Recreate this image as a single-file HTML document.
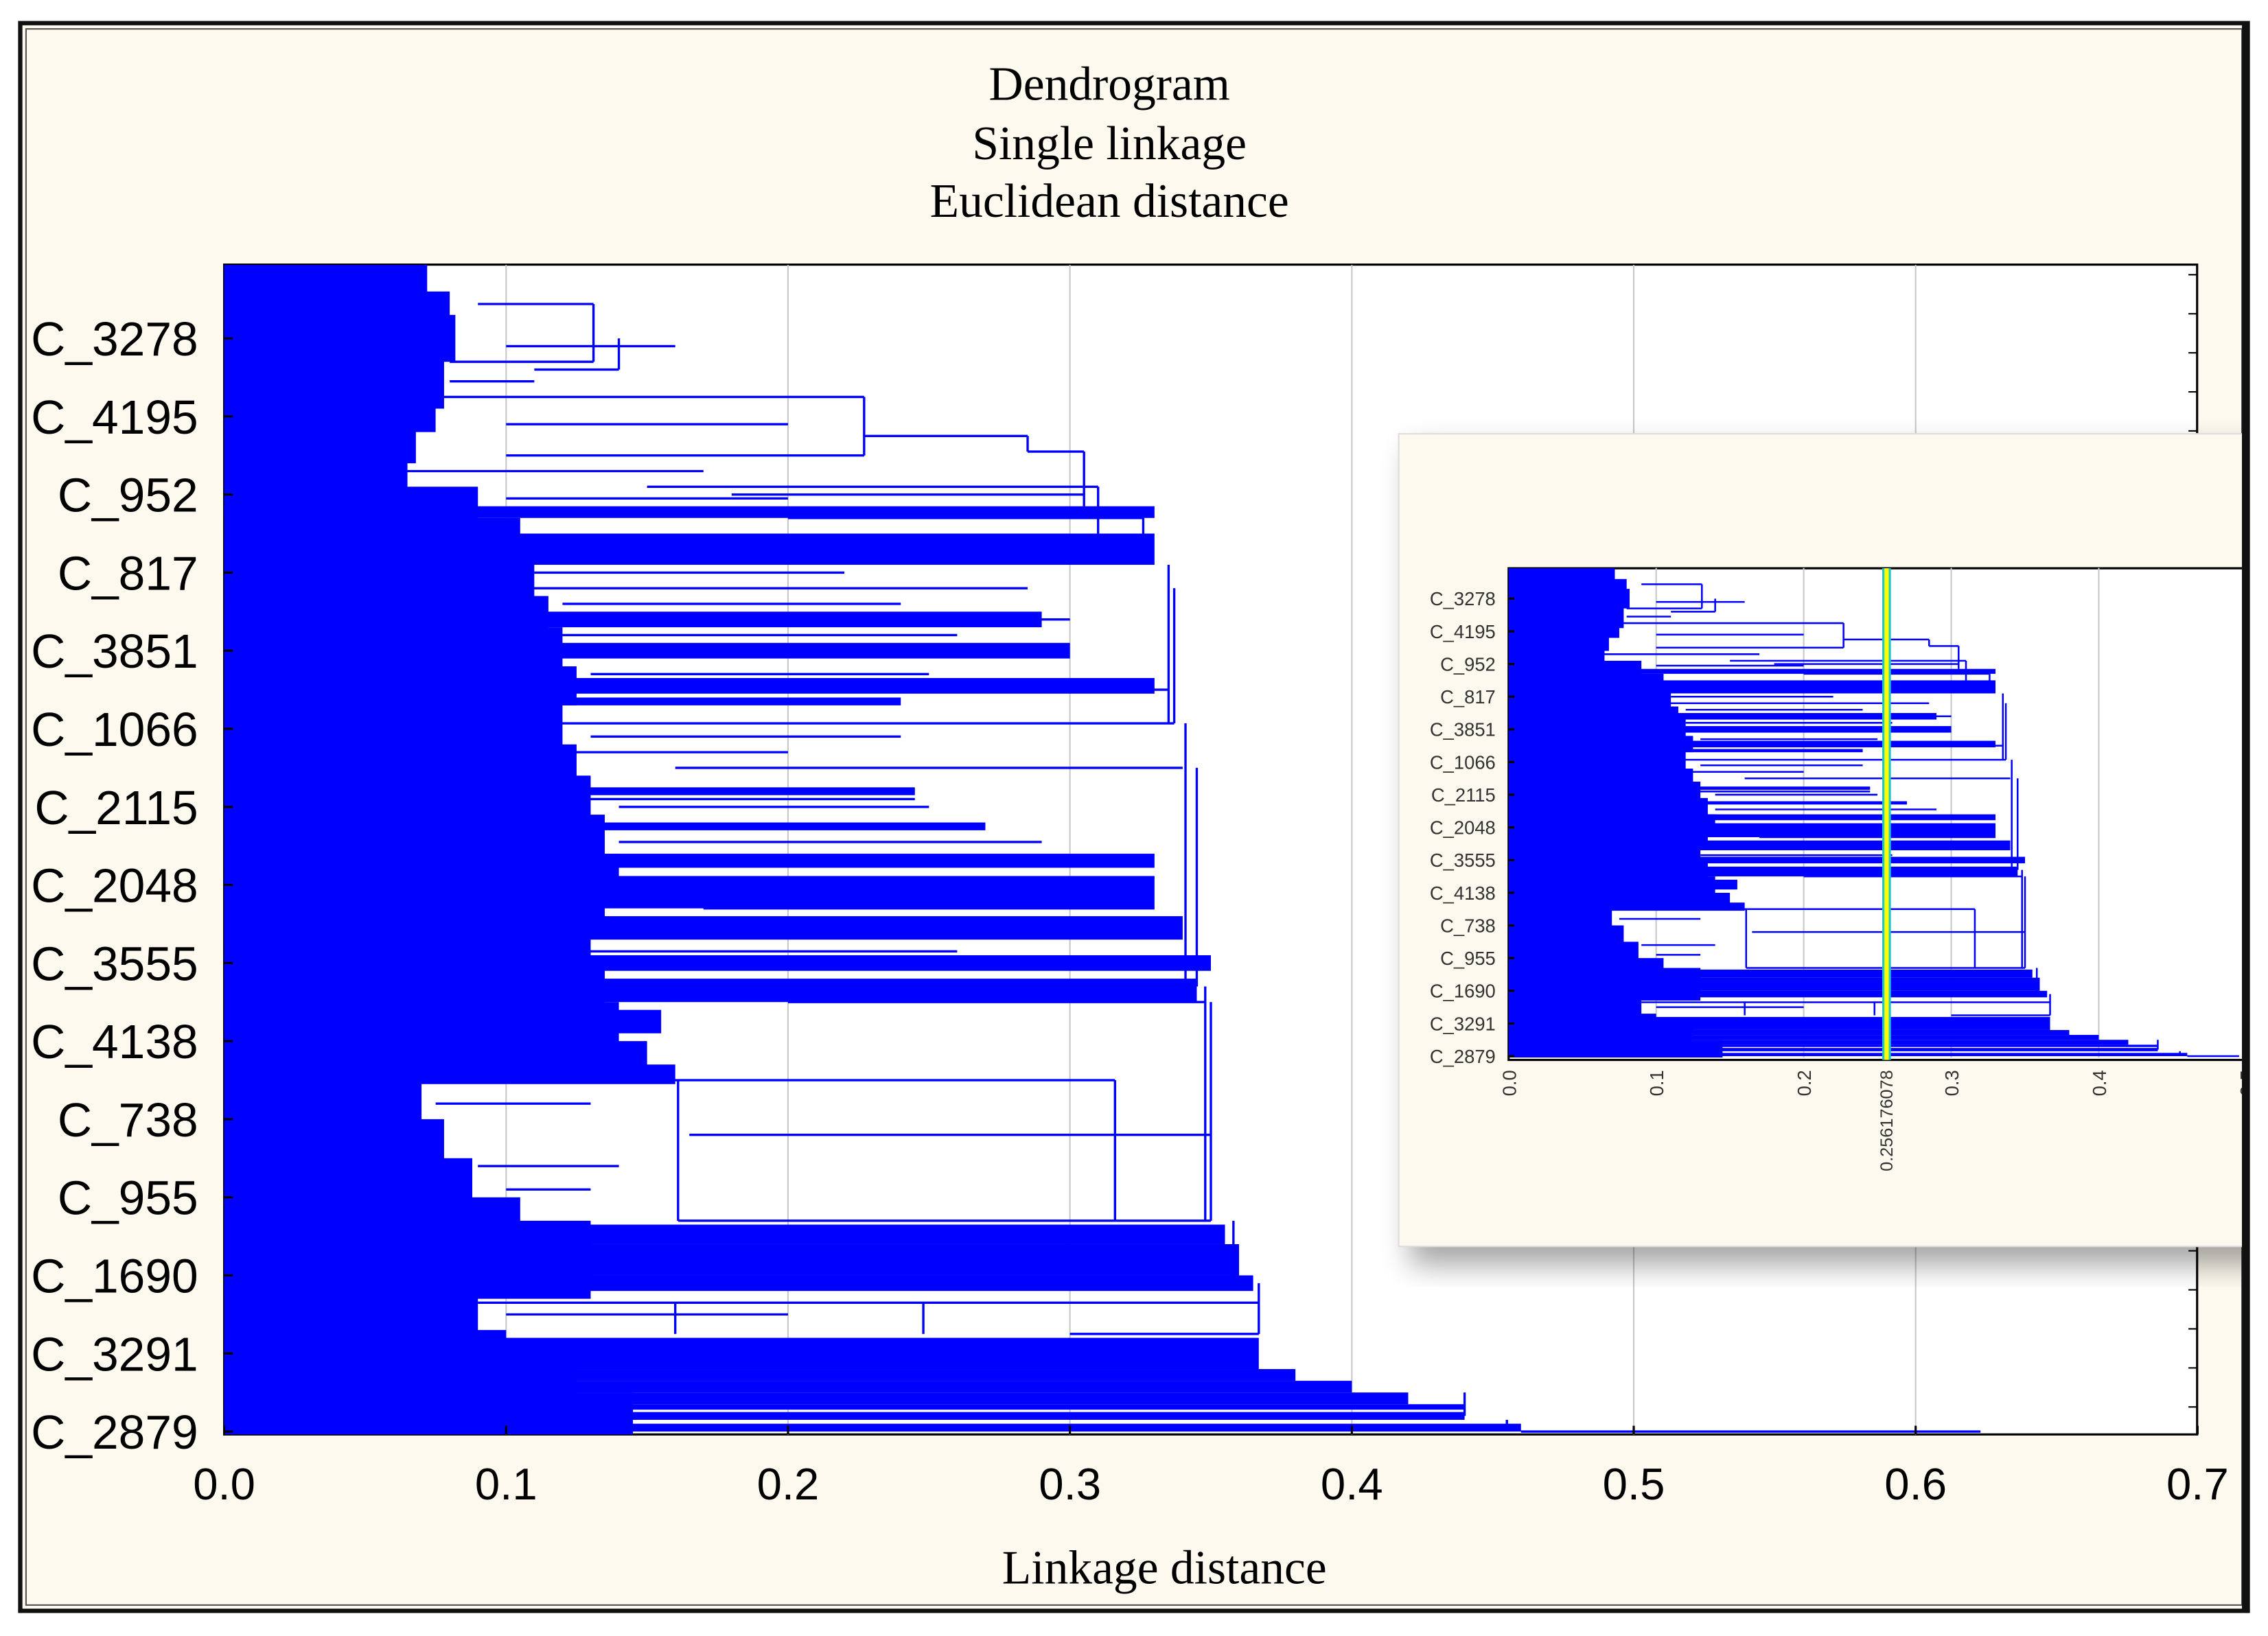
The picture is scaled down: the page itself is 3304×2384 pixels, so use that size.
<!DOCTYPE html>
<html><head><meta charset="utf-8"><style>
html,body{margin:0;padding:0;background:#fff;}
svg{display:block;}
text{font-family:"Liberation Sans",sans-serif;}
.serif{font-family:"Liberation Serif",serif;}
</style></head><body>
<svg id="chart" width="3304" height="2384" viewBox="0 0 1568 1131.4" preserveAspectRatio="none" xmlns="http://www.w3.org/2000/svg">
<defs>
<filter id="sh" x="-10%" y="-10%" width="130%" height="130%"><feGaussianBlur stdDeviation="10"/></filter>
<clipPath id="mainClip"><rect x="155" y="183" width="1364" height="809"/></clipPath>
<clipPath id="insetClip"><rect x="1043" y="393" width="505" height="340"/></clipPath>
<clipPath id="insetBox"><rect x="900" y="290" width="650" height="600"/></clipPath>
</defs>
<rect x="0" y="0" width="1568" height="1131.4" fill="#ffffff"/>
<rect x="14" y="16" width="1540" height="1098" fill="#fdf9ee" stroke="#111" stroke-width="3"/>
<rect x="18" y="20" width="1532" height="1090" fill="none" stroke="#555" stroke-width="1"/>
<g font-size="33" text-anchor="middle" fill="#000">
<text x="767" y="69" class="serif">Dendrogram</text>
<text x="767" y="110" class="serif">Single linkage</text>
<text x="767" y="150" class="serif">Euclidean distance</text>
</g>
<rect x="155" y="183" width="1364" height="809" fill="#ffffff" stroke="#000" stroke-width="1.5"/>
<g id="mainGrid"></g>
<g id="mainPlot" clip-path="url(#mainClip)"></g>
<g id="mainAxes"></g>
<text x="805" y="1095" font-size="33" text-anchor="middle" class="serif">Linkage distance</text>
<g clip-path="url(#insetBox)">
<rect x="975" y="310" width="600" height="565" fill="#000" opacity="0.35" filter="url(#sh)"/>
<rect x="967" y="300" width="600" height="562" fill="#fdf9ee" stroke="#ddd" stroke-width="1"/>
<rect x="1043" y="393" width="520" height="340" fill="#fff" stroke="#000" stroke-width="1.5"/>
<g id="insetGrid"></g>
<g id="insetPlot" clip-path="url(#insetClip)"></g>
<g id="insetAxes"></g>
</g>
<rect x="1550" y="16" width="4" height="1098" fill="#111"/>
</svg>
<script>
// ---- data ----
const leafLabels = ["C_3278","C_4195","C_952","C_817","C_3851","C_1066","C_2115","C_2048","C_3555","C_4138","C_738","C_955","C_1690","C_3291","C_2879"];
const xTicks = [0.0,0.1,0.2,0.3,0.4,0.5,0.6,0.7];
const xTickLabels = ["0.0","0.1","0.2","0.3","0.4","0.5","0.6","0.7"];
const insetTicks = [0.0,0.1,0.2,0.3,0.4,0.5];
const insetTickLabels = ["0.0","0.1","0.2","0.3","0.4","0.5"];
const cutDistance = [0.256176078];
// mass right edge: [leafIndex, distance]
const massEdge = [[-0.94,0.072],[-0.6,0.08],[-0.3,0.082],[0.3,0.078],[0.9,0.075],[1.2,0.068],[1.6,0.065],[1.9,0.09],[2.3,0.105],[2.8,0.11],[3.3,0.115],[3.7,0.12],[4.2,0.125],[4.7,0.12],[5.2,0.125],[5.6,0.13],[6.1,0.135],[6.6,0.14],[7.0,0.135],[7.5,0.13],[8.0,0.135],[8.5,0.14],[9.0,0.15],[9.3,0.16],[9.55,0.07],[10.0,0.078],[10.5,0.088],[11.0,0.105],[11.3,0.13],[12.3,0.09],[12.7,0.1],[13.0,0.125],[13.5,0.145],[14.04,0.155]];
// solid bands: [leafIdxTop, leafIdxBottom, distance]
const bands = [[2.15,2.3,0.33],[2.5,2.9,0.33],[3.5,3.7,0.29],[3.9,4.1,0.3],[4.35,4.55,0.33],[4.6,4.7,0.24],[5.75,5.85,0.245],[6.2,6.3,0.27],[6.6,6.78,0.33],[6.9,7.3,0.33],[7.4,7.7,0.34],[7.9,8.1,0.35],[8.2,8.5,0.345],[8.6,8.9,0.155],[11.35,11.6,0.355],[11.6,12.0,0.36],[12.0,12.2,0.365],[12.8,13.2,0.367],[13.2,13.35,0.38],[13.35,13.5,0.4],[13.5,13.65,0.42],[13.65,13.72,0.44],[13.75,13.85,0.44],[13.9,14.0,0.46]];
// horizontal links: [leafIdx, fromDist, toDist]
const hLinks = [[-0.44,0.09,0.131],[0.3,0.08,0.131],[0.4,0.11,0.14],[0.75,0.07,0.227],[1.5,0.1,0.227],[1.25,0.227,0.285],[1.45,0.285,0.305],[2.0,0.18,0.305],[1.9,0.15,0.31],[2.3,0.2,0.326],[3.2,0.1,0.285],[3.6,0.15,0.3],[4.5,0.1,0.335],[4.93,0.1,0.337],[5.5,0.16,0.34],[5.9,0.12,0.245],[6.9,0.12,0.33],[7.3,0.17,0.33],[8.5,0.2,0.348],[9.5,0.07,0.316],[10.2,0.165,0.35],[11.3,0.161,0.316],[11.3,0.316,0.35],[12.35,0.09,0.367],[12.75,0.3,0.367],[13.8,0.14,0.439],[14.0,0.46,0.623],
 [0.1,0.1,0.16],[0.55,0.08,0.11],[1.1,0.1,0.2],[1.7,0.06,0.17],[2.05,0.1,0.2],[2.6,0.11,0.28],[3.0,0.11,0.22],[3.4,0.12,0.24],[3.8,0.12,0.26],[4.3,0.13,0.25],[5.1,0.13,0.24],[5.3,0.12,0.2],[6.0,0.14,0.25],[6.45,0.14,0.29],[7.15,0.14,0.3],[7.85,0.13,0.26],[8.05,0.14,0.3],[9.8,0.075,0.13],[10.6,0.09,0.14],[10.9,0.1,0.13],[12.5,0.1,0.2],[13.95,0.15,0.35]];
// vertical links: [distance, leafIdxTop, leafIdxBottom]
const vLinks = [[0.131,-0.44,0.3],[0.14,0.0,0.4],[0.227,0.75,1.5],[0.285,1.25,1.45],[0.305,1.45,2.15],[0.31,1.9,2.5],[0.326,2.3,2.6],[0.335,2.9,4.93],[0.337,3.2,4.93],[0.341,4.93,8.3],[0.345,5.5,8.3],[0.348,8.3,11.3],[0.35,8.5,11.3],[0.316,9.5,11.3],[0.161,9.5,11.3],[0.358,11.3,12.1],[0.367,12.1,12.75],[0.16,12.35,12.75],[0.248,12.35,12.75],[0.44,13.5,13.8],[0.455,13.85,14.0]];

const NS = "http://www.w3.org/2000/svg";
function mk(tag, parent, attrs){const e=document.createElementNS(NS,tag);for(const k in attrs)e.setAttribute(k,attrs[k]);parent.appendChild(e);return e;}

function drawDendro(plot, grid, axes, xs, ys, opt){
  const x0=xs(0), yTop=ys(-0.94), yBot=ys(14.04);
  opt.ticks.forEach((t,i)=>{
    if(t>0 && xs(t)<opt.xMax){
      const g=mk("line",grid,{x1:xs(t),x2:xs(t),y1:yTop,y2:yBot,stroke:"#c8c8c8","stroke-width":1});
      
      
    }
  });
  let pts=[[x0,yTop]];
  massEdge.forEach((p,i)=>{
    const next = i<massEdge.length-1 ? ys(massEdge[i+1][0]) : yBot;
    const y = i===0?yTop:ys(p[0]);
    pts.push([xs(p[1]),y]); pts.push([xs(p[1]),next]);
  });
  pts.push([x0,yBot]);
  const poly=mk("polygon",plot,{points:pts.map(p=>p.join(",")).join(" "),fill:"#0000ff"});
  
  
  bands.forEach(b=>{
    const r=mk("rect",plot,{x:x0,y:ys(b[0]),width:xs(b[2])-x0,height:Math.max(1,ys(b[1])-ys(b[0])),fill:"#0000ff"});
    
    
  });
  hLinks.forEach(h=>{
    const l=mk("line",plot,{x1:xs(h[1]),x2:xs(h[2]),y1:ys(h[0]),y2:ys(h[0]),stroke:"#0000ff","stroke-width":opt.lw});
    
    
  });
  vLinks.forEach(v=>{
    const l=mk("line",plot,{x1:xs(v[0]),x2:xs(v[0]),y1:ys(v[1]),y2:ys(v[2]),stroke:"#0000ff","stroke-width":opt.lw});
    
    
  });
  leafLabels.forEach((lab,i)=>{
    const t=mk("text",axes,{x:opt.labelX,y:ys(i)+opt.fs*0.36,"font-size":opt.fs,"text-anchor":"end",fill:opt.labelColor});
    t.textContent=lab;
    
    
    const tk=mk("line",axes,{x1:x0,x2:x0+opt.tick,y1:ys(i),y2:ys(i),stroke:"#000","stroke-width":1.5});
    
    
  });
}

const mxs = d => 155 + d*1949;
const mys = i => 234 + i*54;
drawDendro(document.getElementById("mainPlot"),document.getElementById("mainGrid"),document.getElementById("mainAxes"),mxs,mys,
  {prefix:"",ticks:xTicks,xMax:1519,lw:1.6,labelX:137,fs:33,tick:6,labelColor:"#000"});
const mAx=document.getElementById("mainAxes");
xTicks.forEach((t,i)=>{
  const tx=mk("text",mAx,{x:mxs(t),y:1037,"font-size":31,"text-anchor":"middle"});
  tx.textContent=xTickLabels[i];
  
  
  const tk=mk("line",mAx,{x1:mxs(t),x2:mxs(t),y1:986,y2:992,stroke:"#000","stroke-width":1.5});
  
  
});
for(let k=0;k<30;k++){
  const y=190+k*27;
  const tk=mk("line",mAx,{x1:1513,x2:1519,y1:y,y2:y,stroke:"#000","stroke-width":1});
  
  
}

const ixs = d => 1043 + d*1020;
const iys = i => 414 + i*22.6;
drawDendro(document.getElementById("insetPlot"),document.getElementById("insetGrid"),document.getElementById("insetAxes"),ixs,iys,
  {prefix:"inset-",ticks:insetTicks,xMax:1548,lw:1.2,labelX:1034,fs:13,tick:4,labelColor:"#333"});
const iAx=document.getElementById("insetAxes");
insetTicks.forEach((t,i)=>{
  const x=ixs(t);
  const tx=mk("text",iAx,{x:0,y:0,"font-size":13,"text-anchor":"end",fill:"#333",transform:`translate(${x+5},740) rotate(-90)`});
  tx.textContent=insetTickLabels[i];
  
  
});
cutDistance.forEach(c=>{
  const x=ixs(c);
  const a=mk("rect",iAx,{x:x-3,y:393,width:6,height:340,fill:"#1ec8c8"});
  
  
  const b=mk("line",iAx,{x1:x,x2:x,y1:393,y2:733,stroke:"#ffff00","stroke-width":3});
  
  
  const t=mk("text",iAx,{x:0,y:0,"font-size":12,"text-anchor":"end",fill:"#333",transform:`translate(${x+4},740) rotate(-90)`});
  t.textContent=String(c).slice(0,11);
  
  
});
</script>
</body></html>
